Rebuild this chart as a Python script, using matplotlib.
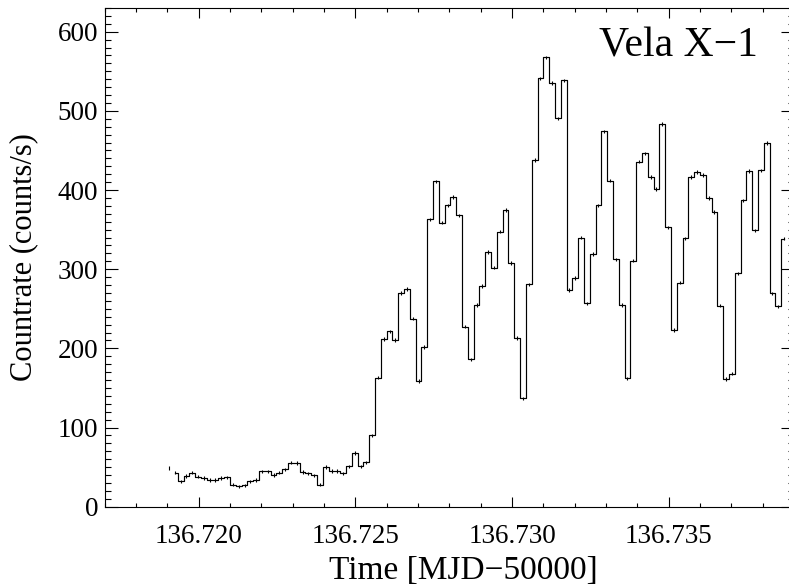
import numpy as np
import matplotlib
matplotlib.use("Agg")
import matplotlib.pyplot as plt
from matplotlib.ticker import MultipleLocator, FormatStrFormatter

plt.rcParams['font.family'] = ['Liberation Serif', 'DejaVu Serif']

# -----------------------------------------------------------------------------
# light curve, 16 s bins
# -----------------------------------------------------------------------------
t_start = 136.71924      # centre of first plotted bin [MJD-50000]
bin_s = 16.0             # bin length in seconds
err_cps = 2.2            # typical error bar half-length (counts/s)

# lone bin just before the histogram starts
first_point = 49.0

rate_low = [43, 32, 39, 43, 38, 36, 34, 34, 36, 37,
            28, 25.5, 27, 32, 33.5, 44.5, 44.5, 40, 43, 47,
            55.5, 55, 44, 42, 39.5, 28, 50, 45, 45, 42,
            51, 68, 51, 56, 90]
rate_mid = [163, 212, 221.5, 210.6, 270, 275, 237.6, 158.5, 202, 363,
            411, 359, 380.5, 391, 368, 227.5, 186, 255, 279, 322,
            302, 347.5, 375, 308, 213, 136.7, 281, 438, 541, 567.5,
            535.5, 490.6, 538.5, 274, 289]
rate_high = [340, 257, 319.5, 380.5, 474, 412, 312.5, 254.5, 162, 311,
             436, 446.5, 416.6, 401.5, 483.5, 352.7, 223, 283, 339, 416.6,
             423, 419, 390, 372.5, 254, 161, 168, 294.7, 387, 424,
             349, 425, 459.6, 269.5, 253, 338.5]

rate = np.array(rate_low + rate_mid + rate_high)
dt_day = bin_s / 86400.0
times = t_start + np.arange(len(rate)) * dt_day
t_first = t_start - dt_day

# -----------------------------------------------------------------------------
# plotting
# -----------------------------------------------------------------------------
fig = plt.figure(figsize=(7.89, 5.88), dpi=100)
ax = fig.add_axes([0.1327, 0.1383, 0.8736, 0.8481])

ax.step(times, rate, where='mid', color='k', linewidth=0.85)
ax.errorbar(times, rate, yerr=err_cps, fmt='none', ecolor='k',
            elinewidth=0.8, capsize=0)
ax.errorbar([t_first], [first_point], yerr=err_cps, fmt='none',
            ecolor='k', elinewidth=0.8, capsize=0)

ax.set_xlim(136.717, 136.739)
ax.set_ylim(0, 630)

ax.xaxis.set_major_locator(MultipleLocator(0.005))
ax.xaxis.set_minor_locator(MultipleLocator(0.001))
ax.xaxis.set_major_formatter(FormatStrFormatter('%.3f'))
ax.yaxis.set_major_locator(MultipleLocator(100))
ax.yaxis.set_minor_locator(MultipleLocator(10))

ax.tick_params(which='both', direction='in', top=True, right=True,
               width=0.8, labelsize=19.5)
ax.tick_params(axis='x', which='major', length=7.2, pad=12.5)
ax.tick_params(axis='x', which='minor', length=3.1)
ax.tick_params(axis='y', which='major', length=9.6, pad=4.8)
ax.tick_params(axis='y', which='minor', length=4.1)
for sp in ax.spines.values():
    sp.set_linewidth(0.8)

ax.set_xlabel('Time [MJD\u221250000]', fontsize=24)
ax.set_ylabel('Countrate (counts/s)', fontsize=22)
ax.xaxis.set_label_coords(0.521, -0.097)
ax.yaxis.set_label_coords(-0.097, 0.5)

ax.text(0.948, 0.9037, 'Vela X\u22121', transform=ax.transAxes,
        ha='right', va='baseline', fontsize=30)

fig.savefig('out.png', dpi=100)
